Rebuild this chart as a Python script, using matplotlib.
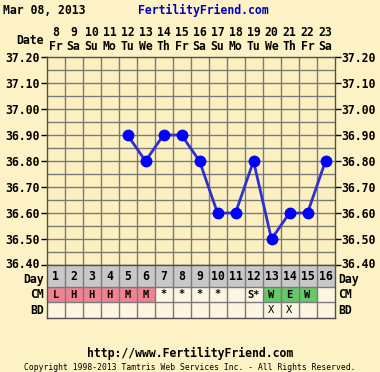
import matplotlib
matplotlib.use("Agg")
import matplotlib.pyplot as plt
import matplotlib.transforms as mtransforms
import numpy as np

days = list(range(1, 17))
dates = [8, 9, 10, 11, 12, 13, 14, 15, 16, 17, 18, 19, 20, 21, 22, 23]
weekdays = ["Fr", "Sa", "Su", "Mo", "Tu", "We", "Th", "Fr",
            "Sa", "Su", "Mo", "Tu", "We", "Th", "Fr", "Sa"]
temp_days = [5, 6, 7, 8, 9, 10, 11, 12, 13, 14, 15, 16]
temps = [36.90, 36.80, 36.90, 36.90, 36.80, 36.60,
         36.60, 36.80, 36.50, 36.60, 36.60, 36.80]
cm = ["L", "H", "H", "H", "M", "M", "*", "*", "*", "*", "", "S*", "W", "E", "W", ""]
bd = ["", "", "", "", "", "", "", "", "", "", "", "", "X", "X", "", ""]

BG = "#fdf2c6"
GRID = "#7a7a7a"
FONT = "DejaVu Sans Mono"
FS = 8.3
W, H = 380, 372

plt.rcParams["font.family"] = FONT
plt.rcParams["font.weight"] = "bold"

fig = plt.figure(figsize=(W / 100, H / 100), dpi=100, facecolor=BG)


def fx(px):
    return px / W


def fy(py):
    return 1 - py / H


left, right = 46.5, 334.5
top, mid, bot = 57, 265, 318

# temperature chart
ax = fig.add_axes([fx(left), fy(mid), fx(right - left), fy(top) - fy(mid)])
ax.set_facecolor("#fcf0c0")
ax.set_xlim(0.5, 16.5)
ax.set_ylim(36.40, 37.20)
for x in np.arange(1.5, 16.5, 1):
    ax.axvline(x, color=GRID, lw=1)
for y in np.arange(36.45, 37.20, 0.05):
    ax.axhline(y, color=GRID, lw=1)
ax.plot(temp_days, temps, color="#3030d0", lw=2, zorder=3)
ax.plot(temp_days, temps, "o", color="#0000ff", ms=7.5, zorder=4)
yt = np.arange(36.40, 37.21, 0.10)
ax.set_yticks(yt)
ax.set_yticklabels([f"{v:.2f}" for v in yt])
ax.tick_params(axis="y", which="both", left=True, right=True, labelleft=True,
               labelright=True, length=4, width=1, labelsize=FS, pad=1)
ax.set_xticks([])
for s in ax.spines.values():
    s.set_color("#505050")
    s.set_linewidth(1)
# nudge the bottom labels up a little so they clear the "Day" labels
up = mtransforms.ScaledTranslation(0, 2 / 100, fig.dpi_scale_trans)
first = ax.yaxis.get_major_ticks()[0]
for lab in (first.label1, first.label2):
    lab.set_transform(lab.get_transform() + up)

# top date header
for d, n, w in zip(days, dates, weekdays):
    xp = fx(left + (d - 0.5) * 18)
    fig.text(xp, fy(33), str(n), ha="center", va="center", fontsize=FS)
    fig.text(xp, fy(46), w, ha="center", va="center", fontsize=FS)
fig.text(fx(44), fy(40), "Date", ha="right", va="center", fontsize=FS)
fig.text(fx(3), fy(10), "Mar 08, 2013", ha="left", va="center", fontsize=FS)
fig.text(fx(203), fy(10), "FertilityFriend.com", ha="center", va="center",
         fontsize=FS, color="#0000c0")

# day / CM / BD table
tb = fig.add_axes([fx(left), fy(bot), fx(right - left), fy(mid) - fy(bot)])
tb.set_xlim(0.5, 16.5)
tb.set_ylim(0, 53)
tb.set_facecolor("#fdf5e2")
tb.axhspan(31, 53, color="#c8c8c8", lw=0)
for d, c in zip(days, cm):
    if c in ("L", "H", "M"):
        tb.fill_between([d - 0.5, d + 0.5], 16, 31, color="#f08392", lw=0)
    elif c in ("W", "E"):
        tb.fill_between([d - 0.5, d + 0.5], 16, 31, color="#66c866", lw=0)
    tb.text(d, 42, str(d), ha="center", va="center", fontsize=FS)
    tb.text(d, 23.5, c, ha="center", va="center", fontsize=7.5)
for d, b in zip(days, bd):
    tb.text(d, 8, b, ha="center", va="center", fontsize=7.5, fontweight="normal")
for x in np.arange(1.5, 16.5, 1):
    tb.axvline(x, color=GRID, lw=1)
for y in (16, 31):
    tb.axhline(y, color=GRID, lw=1)
tb.set_xticks([])
tb.set_yticks([])
for s in tb.spines.values():
    s.set_color("#505050")
    s.set_linewidth(1)

for label, yp in (("Day", 279), ("CM", 295), ("BD", 311)):
    fig.text(fx(44), fy(yp), label, ha="right", va="center", fontsize=FS)
    fig.text(fx(338), fy(yp), label, ha="left", va="center", fontsize=FS)

fig.text(0.5, fy(353), "http://www.FertilityFriend.com", ha="center",
         va="center", fontsize=FS)
fig.text(0.5, fy(367), "Copyright 1998-2013 Tamtris Web Services Inc. - All Rights Reserved.",
         ha="center", va="center", fontsize=5.8, fontweight="normal")

fig.savefig("out.png", dpi=100, facecolor=BG)
